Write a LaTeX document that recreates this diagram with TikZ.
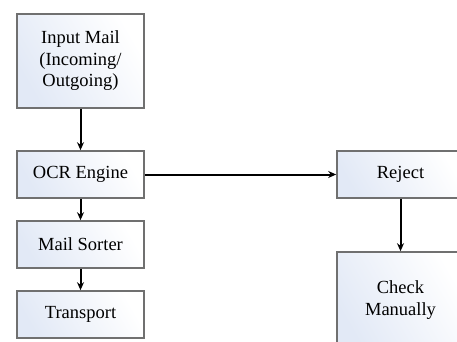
\documentclass[tikz,border=0pt]{standalone}
\usepackage{fontspec}
\setmainfont{Liberation Serif}
\usetikzlibrary{arrows.meta}
\definecolor{boxline}{HTML}{707070}
\definecolor{boxtint}{HTML}{E2E9F6}
\begin{document}
\begin{tikzpicture}[x=1pt,y=-1pt,
  flowbox/.style={draw=boxline, line width=1.6pt, left color=boxtint, right color=white,
    shading angle=120, minimum width=127pt, align=center, inner sep=0pt,
    font=\fontsize{18.5}{21.5}\selectfont},
  flow/.style={line width=2pt, -{Stealth[length=8pt,width=7pt]}}]
\useasboundingbox (0,0) rectangle (457,342);
\clip (0,0) rectangle (457,342);
\fill[white] (0,0) rectangle (457,342);
\node[flowbox, minimum height=94pt] (input) at (80.5,61) {Input Mail\\(Incoming/\\Outgoing)};
\node[flowbox, minimum height=47pt] (ocr) at (80.5,174.5) {OCR Engine};
\node[flowbox, minimum height=47pt] (sorter) at (80.5,244.5) {Mail Sorter};
\node[flowbox, minimum height=47pt] (transport) at (80.5,314.5) {Transport};
\node[flowbox, minimum height=47pt] (reject) at (400.5,174.5) {Reject};
\node[flowbox, minimum height=96pt] (check) at (400.5,300) {Check\\Manually};
\draw[flow] (input) -- (ocr);
\draw[flow] (ocr) -- (sorter);
\draw[flow] (sorter) -- (transport);
\draw[flow] (ocr) -- (reject);
\draw[flow] (reject) -- (check);
\end{tikzpicture}
\end{document}
